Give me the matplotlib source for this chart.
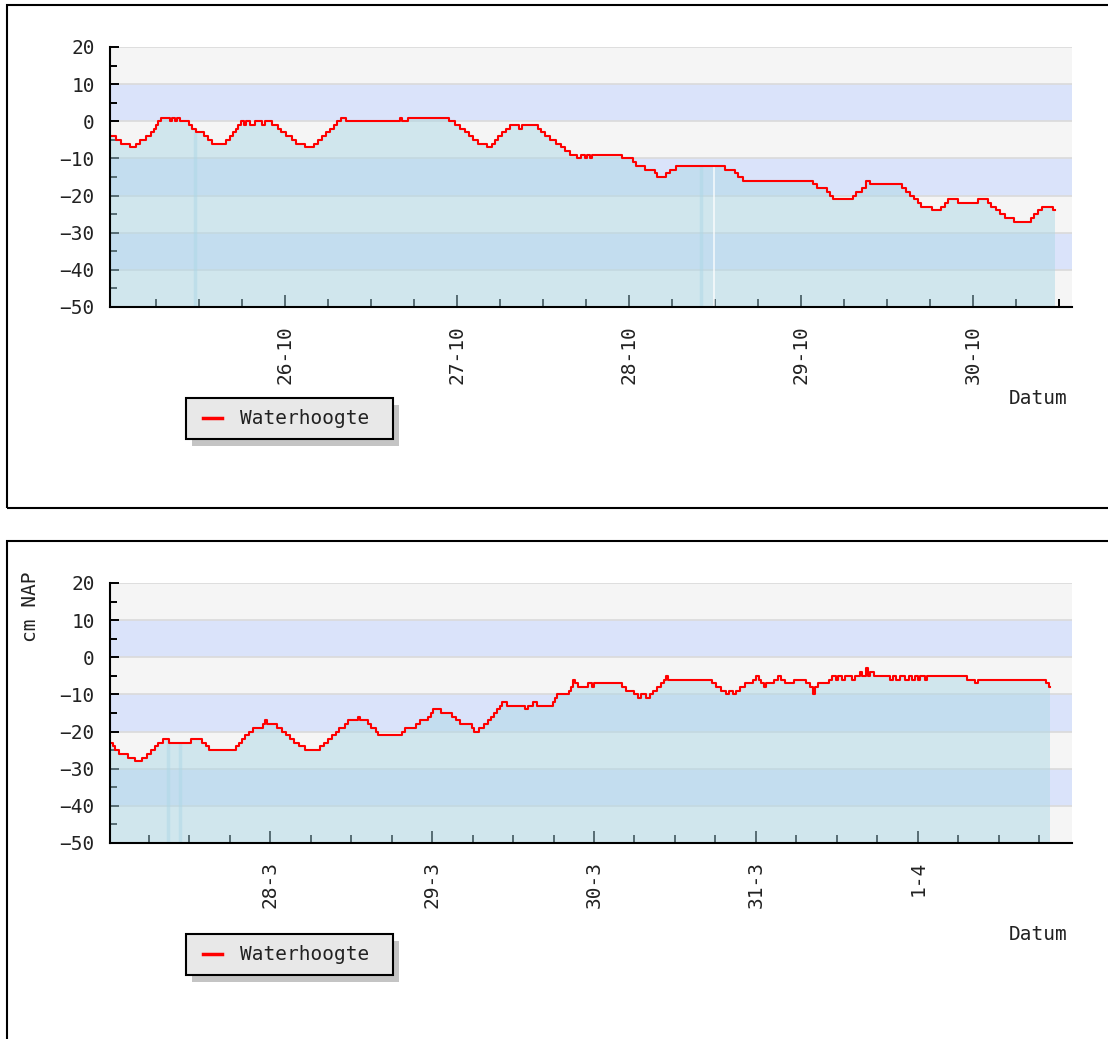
import numpy as np
import matplotlib
matplotlib.use('Agg')
import matplotlib.pyplot as plt
from matplotlib.patches import Rectangle
from matplotlib.lines import Line2D
from matplotlib.ticker import FixedLocator

# time in days relative to the first labelled midnight
top_t = [-1.012, -0.983, -0.953, -0.901, -0.866, -0.843, -0.808, -0.779, -0.762, -0.750,
         -0.738, -0.721, -0.669, -0.657, -0.640, -0.628, -0.610, -0.558, -0.541, -0.517,
         -0.471, -0.448, -0.424, -0.343, -0.320, -0.302, -0.285, -0.273, -0.256, -0.238,
         -0.227, -0.203, -0.174, -0.134, -0.116, -0.076, -0.041, -0.023, 0.006, 0.041,
         0.064, 0.116, 0.169, 0.192, 0.215, 0.238, 0.262, 0.285, 0.302, 0.326,
         0.355, 0.669, 0.680, 0.715, 0.953, 0.988, 1.017, 1.047, 1.070, 1.093,
         1.122, 1.174, 1.203, 1.221, 1.238, 1.262, 1.285, 1.308, 1.360, 1.378,
         1.471, 1.488, 1.512, 1.541, 1.576, 1.605, 1.628, 1.657, 1.698, 1.721,
         1.744, 1.756, 1.773, 1.785, 1.959, 2.023, 2.041, 2.093, 2.151, 2.163,
         2.215, 2.238, 2.273, 2.558, 2.616, 2.634, 2.663, 3.070, 3.093, 3.151,
         3.169, 3.186, 3.302, 3.320, 3.355, 3.378, 3.401, 3.587, 3.610, 3.634,
         3.657, 3.680, 3.698, 3.762, 3.814, 3.837, 3.855, 3.913, 4.029, 4.087,
         4.105, 4.134, 4.157, 4.186, 4.238, 4.337, 4.355, 4.378, 4.401, 4.465,
         4.477]
top_v = [-4, -5, -6, -7, -6, -5, -4, -3, -2, -1,
         0, 1, 0, 1, 0, 1, 0, -1, -2, -3,
         -4, -5, -6, -5, -4, -3, -2, -1, 0, -1,
         0, -1, 0, -1, 0, -1, -2, -3, -4, -5,
         -6, -7, -6, -5, -4, -3, -2, -1, 0, 1,
         0, 1, 0, 1, 0, -1, -2, -3, -4, -5,
         -6, -7, -6, -5, -4, -3, -2, -1, -2, -1,
         -2, -3, -4, -5, -6, -7, -8, -9, -10, -9,
         -10, -9, -10, -9, -10, -11, -12, -13, -14, -15,
         -14, -13, -12, -13, -14, -15, -16, -17, -18, -19,
         -20, -21, -20, -19, -18, -16, -17, -18, -19, -20,
         -21, -22, -23, -24, -23, -22, -21, -22, -21, -22,
         -23, -24, -25, -26, -27, -26, -25, -24, -23, -24,
         -24]
top_labels = ['26-10', '27-10', '28-10', '29-10', '30-10']
top_gaps = [-0.523, 2.419]
top_breaks = [2.494]

bot_t = [-0.981, -0.969, -0.957, -0.932, -0.877, -0.833, -0.790, -0.759, -0.735, -0.710,
         -0.691, -0.660, -0.623, -0.488, -0.420, -0.395, -0.377, -0.210, -0.191, -0.173,
         -0.154, -0.130, -0.105, -0.043, -0.031, -0.019, 0.043, 0.074, 0.099, 0.123,
         0.148, 0.179, 0.216, 0.309, 0.333, 0.358, 0.383, 0.407, 0.426, 0.463,
         0.481, 0.543, 0.556, 0.605, 0.623, 0.654, 0.667, 0.815, 0.833, 0.901,
         0.926, 0.975, 0.994, 1.006, 1.056, 1.123, 1.148, 1.173, 1.247, 1.259,
         1.290, 1.321, 1.346, 1.364, 1.383, 1.401, 1.420, 1.432, 1.463, 1.574,
         1.593, 1.623, 1.648, 1.747, 1.759, 1.772, 1.846, 1.858, 1.870, 1.883,
         1.901, 1.963, 1.988, 2.000, 2.173, 2.198, 2.247, 2.272, 2.290, 2.321,
         2.346, 2.364, 2.389, 2.414, 2.432, 2.444, 2.457, 2.728, 2.753, 2.784,
         2.815, 2.833, 2.858, 2.877, 2.901, 2.932, 2.981, 3.000, 3.019, 3.031,
         3.049, 3.062, 3.111, 3.136, 3.154, 3.179, 3.235, 3.309, 3.333, 3.352,
         3.364, 3.383, 3.451, 3.469, 3.494, 3.506, 3.531, 3.549, 3.593, 3.611,
         3.642, 3.654, 3.679, 3.691, 3.704, 3.728, 3.827, 3.846, 3.864, 3.889,
         3.920, 3.944, 3.963, 3.981, 4.000, 4.012, 4.043, 4.056, 4.302, 4.352,
         4.370, 4.790, 4.809, 4.815]
bot_v = [-23, -24, -25, -26, -27, -28, -27, -26, -25, -24,
         -23, -22, -23, -22, -23, -24, -25, -24, -23, -22,
         -21, -20, -19, -18, -17, -18, -19, -20, -21, -22,
         -23, -24, -25, -24, -23, -22, -21, -20, -19, -18,
         -17, -16, -17, -18, -19, -20, -21, -20, -19, -18,
         -17, -16, -15, -14, -15, -16, -17, -18, -19, -20,
         -19, -18, -17, -16, -15, -14, -13, -12, -13, -14,
         -13, -12, -13, -12, -11, -10, -9, -8, -6, -7,
         -8, -7, -8, -7, -8, -9, -10, -11, -10, -11,
         -10, -9, -8, -7, -6, -5, -6, -7, -8, -9,
         -10, -9, -10, -9, -8, -7, -6, -5, -6, -7,
         -8, -7, -6, -5, -6, -7, -6, -7, -8, -10,
         -8, -7, -6, -5, -6, -5, -6, -5, -6, -5,
         -4, -5, -3, -5, -4, -5, -6, -5, -6, -5,
         -6, -5, -6, -5, -6, -5, -6, -5, -6, -7,
         -6, -7, -8, -8]
bot_labels = ['28-3', '29-3', '30-3', '31-3', '1-4']
bot_gaps = [-0.630, -0.556]
bot_breaks = []

W, H = 1108, 1039
plt.rcParams['font.family'] = 'DejaVu Sans Mono'
plt.rcParams['font.size'] = 14

fig = plt.figure(figsize=(W / 100, H / 100), dpi=100)


def px(x, y):
    # pixel position -> figure fraction
    return x / W, 1 - y / H


def panel(top_px, t, v, labels, xlim, gaps, breaks, ylabel=None):
    ax = fig.add_axes([110 / W, 1 - (top_px + 260) / H, 962 / W, 260 / H])
    ax.set_xlim(*xlim)
    ax.set_ylim(-50, 20)

    # alternating bands + grid
    for i, y in enumerate(range(-50, 20, 10)):
        col = '#f5f5f5' if i % 2 == 0 else '#dae3fa'
        ax.axhspan(y, y + 10, color=col, lw=0, zorder=0)
    for y in range(-40, 21, 10):
        ax.axhline(y, color='#dadada', lw=1.2, zorder=1)

    t = np.array(t)
    v = np.array(v)
    ax.fill_between(t, -50, v, step='post', color='lightblue', alpha=0.5, lw=0, zorder=2)
    for g in gaps:
        k = np.searchsorted(t, g, side='right') - 1
        ax.vlines(g, -50, v[k], color='lightblue', lw=2.5, alpha=0.5, zorder=2)
    for g in breaks:
        k = np.searchsorted(t, g, side='right') - 1
        ax.vlines(g, -50, v[k], color='white', lw=1.2, alpha=0.8, zorder=2)
    ax.plot(t, v, drawstyle='steps-post', color='red', lw=1.5, zorder=3)

    ax.set_xticks(range(len(labels)))
    ax.set_xticklabels(labels, rotation=90)
    minor = [m for m in np.arange(-1.0, xlim[1], 0.25) if m > xlim[0] + 0.05]
    ax.xaxis.set_minor_locator(FixedLocator(minor))
    ax.set_yticks(range(-50, 21, 10))
    ax.yaxis.set_minor_locator(FixedLocator(range(-45, 20, 10)))
    ax.tick_params(axis='x', which='major', direction='in', length=8.5, width=1.4, pad=13)
    ax.tick_params(axis='x', which='minor', direction='in', length=5.5, width=1.4)
    ax.tick_params(axis='y', which='major', direction='in', length=6.5, width=1.4, pad=11)
    ax.tick_params(axis='y', which='minor', direction='in', length=5, width=1.4)
    ax.tick_params(colors='black', labelcolor='#222222')

    for s in ['top', 'right']:
        ax.spines[s].set_visible(False)
    for s in ['left', 'bottom']:
        ax.spines[s].set_linewidth(1.5)
        ax.spines[s].set_zorder(5)

    fig.text(*px(1068, top_px + 352), 'Datum', ha='right', va='center', color='#222222')
    if ylabel:
        fig.text(*px(30, top_px + 24), ylabel, rotation=90,
                 ha='center', va='center', color='#222222')

    # legend box with drop shadow
    y0 = top_px + 351
    fig.add_artist(Rectangle(px(192, y0 + 48), 207 / W, 41 / H, transform=fig.transFigure,
                             fc='#c4c4c4', ec='none', zorder=1))
    fig.add_artist(Rectangle(px(186, y0 + 41), 207 / W, 41 / H, transform=fig.transFigure,
                             fc='#e8e8e8', ec='black', lw=1.5, zorder=2))
    xa, ya = px(203, y0 + 20)
    xb, _ = px(222, y0 + 20)
    fig.add_artist(Line2D([xa, xb], [ya, ya], transform=fig.transFigure,
                          color='red', lw=2.5, zorder=3))
    fig.text(*px(240, y0 + 20), 'Waterhoogte', ha='left', va='center',
             color='#222222', zorder=3)
    return ax


panel(47, top_t, top_v, top_labels, (-1.017, 4.576), top_gaps, top_breaks)
panel(583, bot_t, bot_v, bot_labels, (-0.988, 4.951), bot_gaps, bot_breaks, ylabel='cm NAP')

# panel frames
fig.add_artist(Rectangle((7 / W, 1 - 508 / H), 1110 / W, 503 / H,
                         transform=fig.transFigure, fill=False, lw=1.5, ec='black'))
fig.add_artist(Rectangle((7 / W, -10 / H), 1110 / W, (1039 - 541 + 10) / H,
                         transform=fig.transFigure, fill=False, lw=1.5, ec='black'))

fig.savefig('out.png', dpi=100, facecolor='white')
